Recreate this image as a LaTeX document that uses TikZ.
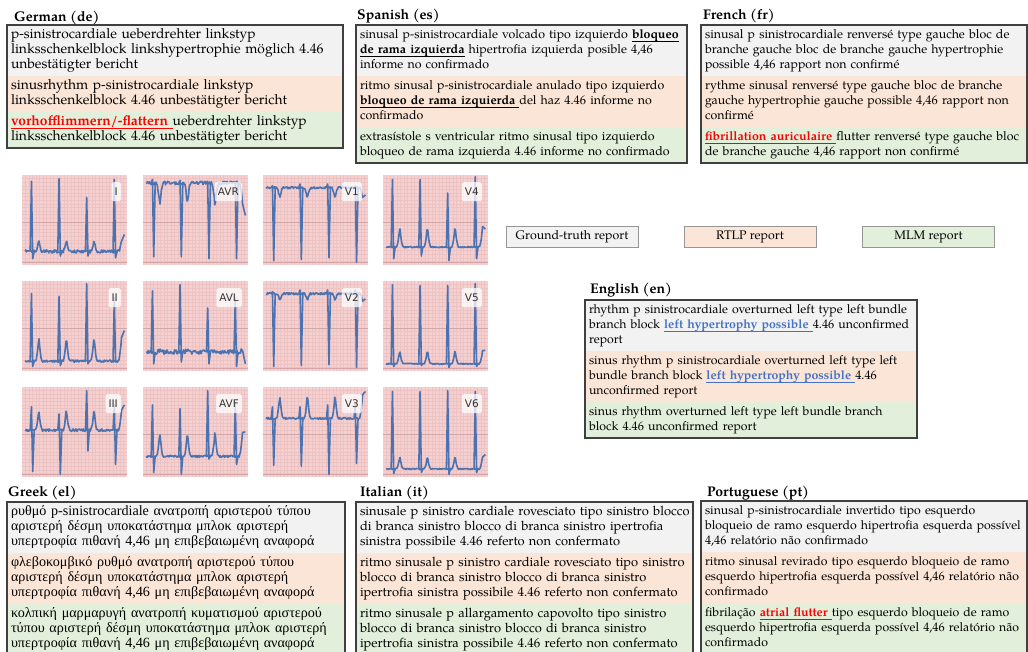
\documentclass[tikz,border=0pt]{standalone}
\usepackage{fontspec}
\setmainfont{TeX Gyre Pagella}
\newfontfamily\greekfont{Liberation Serif}
\newfontfamily\leadfont{DejaVu Sans}
\usetikzlibrary{positioning}

\definecolor{gtgray}{RGB}{242,242,242}
\definecolor{rtlporange}{RGB}{251,229,214}
\definecolor{mlmgreen}{RGB}{226,239,218}
\definecolor{boxborder}{RGB}{64,64,64}
\definecolor{legborder}{RGB}{150,150,150}
\definecolor{errred}{RGB}{255,0,0}
\definecolor{hitblue}{RGB}{68,114,196}
\definecolor{ecgpink}{RGB}{244,208,208}
\definecolor{ecgblue}{RGB}{76,114,176}
\definecolor{ecgminorc}{RGB}{236,194,194}
\definecolor{ecgmajorc}{RGB}{210,166,166}

\newcommand{\ulbox}[1]{\underline{\smash{#1}\rule[-1.4pt]{0pt}{1pt}}}
\newcommand{\wrong}[1]{\textcolor{errred}{\ulbox{\textbf{#1}}}}
\newcommand{\hit}[1]{\textcolor{hitblue}{\ulbox{\textbf{#1}}}}
\newcommand{\keyterm}[1]{\ulbox{\textbf{#1}}}

\tikzset{
  declare function={ph(\q)=mod(\q+0.173,0.263); tw(\p)=max(0,1-abs(\p-0.07)/0.035);},
  band/.style={rectangle, anchor=north west, inner xsep=4pt, inner ysep=3pt, outer sep=0pt,
    align=left, execute at begin node={\rightskip=0pt plus 1fil minus 200pt\relax\strut},
    execute at end node=\strut},
  fs/.style={font=\fontsize{#1}{15}\selectfont},
  gt/.style={band, fill=gtgray, text width=#1},
  rtlp/.style={band, fill=rtlporange, text width=#1},
  mlm/.style={band, fill=mlmgreen, text width=#1},
  greek/.style={font=\greekfont\fontsize{#1}{15}\selectfont},
  frame/.style={draw=boxborder, line width=1.2pt},
  title/.style={anchor=base west, inner sep=0pt, font=\bfseries\fontsize{14}{15}\selectfont},
  legend/.style={draw=legborder, line width=0.8pt, minimum width=132pt, minimum height=21pt,
    inner sep=0pt, font=\fontsize{12.4}{14}\selectfont},
  ecggrid/.style={draw=ecgminorc, line width=0.35pt},
  ecgmajor/.style={draw=ecgmajorc, line width=0.5pt},
  trace/.style={draw=ecgblue, line width=1.6pt, line join=round},
  leadlbl/.style={anchor=north east, xshift=-6pt, yshift=-7pt, fill=white, fill opacity=0.75,
    text opacity=1, rounded corners=2pt, text=black!80, inner xsep=3pt, inner ysep=0pt,
    minimum height=19pt, font=\leadfont\fontsize{10.5}{12}\selectfont}
}

% one ECG lead: x, y, name, base, T level, noise, beats (R/S), end level
\newcommand{\ecglead}[8]{%
  \begin{scope}[shift={(#1,#2)}, x=105pt, y=-90pt]
    \fill[ecgpink] (0,0) rectangle (1,1);
    \foreach \i in {1,...,29} \draw[ecggrid] (\i/30,0) -- (\i/30,1);
    \foreach \j in {1,...,24} \draw[ecggrid] (0,\j/25) -- (1,\j/25);
    \draw[ecgmajor] (0,0.52) -- (1,0.52) (0,0.965) -- (1,0.965);
    \begin{scope}
      \clip (0,0) rectangle (1,1);
      \draw[trace] plot[domain=0.03:0.95, samples=140]
        (\x,{#4+(#5-#4)*tw(ph(\x))*tw(ph(\x))+#6*rand}) -- (0.975,#8);
      \foreach \r/\s [count=\k from 0] in {#7} {
        \pgfmathsetmacro{\bx}{0.09+0.263*\k}
        \draw[trace] (\bx-0.012,#4) -- (\bx,\r) -- (\bx+0.012,\s) -- (\bx+0.026,#4);
      }
    \end{scope}
    \node[leadlbl] (lead-#3) at (1,0) {#3};
  \end{scope}}

\begin{document}
\begin{tikzpicture}[x=1pt, y=-1pt]
\useasboundingbox (0,0) rectangle (1028,652);
\clip (0,0) rectangle (1028,652);
\fill[white] (0,0) rectangle (1028,652);

% German
\node[title] (de-title) at (14,22) {German (de)};
\node[gt=328pt, fs=13.8] (de-gt) at (7,25) {p-sinistrocardiale ueberdrehter linkstyp\\ linksschenkelblock linkshypertrophie möglich 4.46\\ unbestätigter bericht};
\node[rtlp=328pt, fs=13.8] (de-rtlp) [below=0pt of de-gt] {sinusrhythm p-sinistrocardiale linkstyp\\ linksschenkelblock 4.46 unbestätigter bericht};
\node[mlm=328pt, fs=13.8] (de-mlm) [below=0pt of de-rtlp] {\wrong{vorhofflimmern/-flattern }ueberdrehter linkstyp\\ linksschenkelblock 4.46 unbestätigter bericht};
\draw[frame] (de-gt.north west) rectangle (de-mlm.south east);

% Spanish
\node[title] (es-title) at (357,20) {Spanish (es)};
\node[gt=323pt, fs=12.4] (es-gt) at (356,25) {sinusal p-sinistrocardiale volcado tipo izquierdo \keyterm{bloqueo}\\ \keyterm{de rama izquierda} hipertrofia izquierda posible 4,46\\ informe no confirmado};
\node[rtlp=323pt, fs=12.4] (es-rtlp) [below=0pt of es-gt] {ritmo sinusal p-sinistrocardiale anulado tipo izquierdo\\ \keyterm{bloqueo de rama izquierda }del haz 4.46 informe no\\ confirmado};
\node[mlm=323pt, fs=12.4] (es-mlm) [below=0pt of es-rtlp] {extrasístole s ventricular ritmo sinusal tipo izquierdo\\ bloqueo de rama izquierda 4.46 informe no confirmado};
\draw[frame] (es-gt.north west) rectangle (es-mlm.south east);

% French
\node[title] (fr-title) at (703,20) {French (fr)};
\node[gt=318pt, fs=12.4] (fr-gt) at (701,25) {sinusal p sinistrocardiale renversé type gauche bloc de\\ branche gauche bloc de branche gauche hypertrophie\\ possible 4,46 rapport non confirmé};
\node[rtlp=318pt, fs=12.4] (fr-rtlp) [below=0pt of fr-gt] {rythme sinusal renversé type gauche bloc de branche\\ gauche hypertrophie gauche possible 4,46 rapport non\\ confirmé};
\node[mlm=318pt, fs=12.4] (fr-mlm) [below=0pt of fr-rtlp] {\wrong{fibrillation auriculaire }flutter renversé type gauche bloc\\ de branche gauche 4,46 rapport non confirmé};
\draw[frame] (fr-gt.north west) rectangle (fr-mlm.south east);

% ECG leads
\ecglead{22}{175}{I}{0.85}{0.72}{0.018}{0.07/0.93, 0.04/0.9, 0.25/0.9, 0.05/0.92}{0.66}
\ecglead{143}{175}{AVR}{0.09}{0.34}{0.02}{0.05/0.91, 0.06/0.91, 0.07/0.93, 0.08/0.93}{0.45}
\ecglead{263}{175}{V1}{0.14}{0.26}{0.012}{0.12/0.95, 0.1/0.94, 0.1/0.92, 0.12/0.97}{0.22}
\ecglead{383}{175}{V4}{0.8}{0.57}{0.008}{0.05/0.93, 0.05/0.9, 0.2/0.95, 0.02/0.93}{0.6}
\ecglead{22}{281}{II}{0.89}{0.62}{0.012}{0.14/0.95, 0.17/0.94, 0.03/0.92, 0.19/0.9}{0.55}
\ecglead{143}{281}{AVL}{0.79}{0.76}{0.025}{0.11/0.92, 0.04/0.9, 0.3/0.92, 0.19/0.95}{0.92}
\ecglead{263}{281}{V2}{0.14}{0.22}{0.012}{0.12/0.95, 0.1/0.94, 0.1/0.93, 0.1/0.96}{0.2}
\ecglead{383}{281}{V5}{0.92}{0.77}{0.006}{0.04/0.95, 0.05/0.94, 0.05/0.96, 0.03/0.95}{0.77}
\ecglead{22}{387}{III}{0.48}{0.24}{0.015}{0.22/0.94, 0.3/0.97, 0.04/0.71, 0.2/0.86}{0.2}
\ecglead{143}{387}{AVF}{0.77}{0.49}{0.012}{0.2/0.95, 0.24/0.97, 0.04/0.8, 0.17/0.86}{0.5}
\ecglead{263}{387}{V3}{0.35}{0.08}{0.01}{0.22/0.87, 0.22/0.88, 0.2/0.97, 0.2/0.85}{0.05}
\ecglead{383}{387}{V6}{0.91}{0.77}{0.006}{0.05/0.96, 0.05/0.95, 0.04/0.97, 0.05/0.95}{0.75}

% legend
\node[legend, fill=gtgray] (leg-gt) at (572,236.5) {Ground-truth report};
\node[legend, fill=rtlporange] (leg-rtlp) at (750,236.5) {RTLP report};
\node[legend, fill=mlmgreen] (leg-mlm) at (928.5,236.5) {MLM report};

% English
\node[title] (en-title) at (590,294) {English (en)};
\node[gt=324pt, fs=12.3] (en-gt) at (585,300) {rhythm p sinistrocardiale overturned left type left bundle\\ branch block \hit{left hypertrophy possible }4.46 unconfirmed\\ report};
\node[rtlp=324pt, fs=12.3] (en-rtlp) [below=0pt of en-gt] {sinus rhythm p sinistrocardiale overturned left type left\\ bundle branch block \hit{left hypertrophy possible }4.46\\ unconfirmed report};
\node[mlm=324pt, fs=12.3] (en-mlm) [below=0pt of en-rtlp] {sinus rhythm overturned left type left bundle branch\\ block 4.46 unconfirmed report};
\draw[frame] (en-gt.north west) rectangle (en-mlm.south east);

% Greek
\node[title] (el-title) at (8,496) {Greek (el)};
\node[gt=330pt, greek=14.1] (el-gt) at (7,502) {ρυθμό p-sinistrocardiale ανατροπή αριστερού τύπου\\ αριστερή δέσμη υποκατάστημα μπλοκ αριστερή\\ υπερτροφία πιθανή 4,46 μη επιβεβαιωμένη αναφορά};
\node[rtlp=330pt, greek=14.1] (el-rtlp) [below=0pt of el-gt] {φλεβοκομβικό ρυθμό ανατροπή αριστερού τύπου\\ αριστερή δέσμη υποκατάστημα μπλοκ αριστερή\\ υπερτροφία πιθανή 4,46 μη επιβεβαιωμένη αναφορά};
\node[mlm=330pt, greek=14.1] (el-mlm) [below=0pt of el-rtlp] {κολπική μαρμαρυγή ανατροπή κυματισμού αριστερού\\ τύπου αριστερή δέσμη υποκατάστημα μπλοκ αριστερή\\ υπερτροφία πιθανή 4,46 μη επιβεβαιωμένη αναφορά};
\draw[frame] (el-gt.north west) rectangle (el-mlm.south east);

% Italian
\node[title] (it-title) at (360,496) {Italian (it)};
\node[gt=329pt, fs=12.9] (it-gt) at (356,502) {sinusale p sinistro cardiale rovesciato tipo sinistro blocco\\ di branca sinistro blocco di branca sinistro ipertrofia\\ sinistra possibile 4.46 referto non confermato};
\node[rtlp=329pt, fs=12.9] (it-rtlp) [below=0pt of it-gt] {ritmo sinusale p sinistro cardiale rovesciato tipo sinistro\\ blocco di branca sinistro blocco di branca sinistro\\ ipertrofia sinistra possibile 4.46 referto non confermato};
\node[mlm=329pt, fs=12.9] (it-mlm) [below=0pt of it-rtlp] {ritmo sinusale p allargamento capovolto tipo sinistro\\ blocco di branca sinistro blocco di branca sinistro\\ ipertrofia sinistra possibile 4.46 referto non confermato};
\draw[frame] (it-gt.north west) rectangle (it-mlm.south east);

% Portuguese
\node[title] (pt-title) at (707,496) {Portuguese (pt)};
\node[gt=318pt, fs=12.3] (pt-gt) at (701,501) {sinusal p-sinistrocardiale invertido tipo esquerdo\\ bloqueio de ramo esquerdo hipertrofia esquerda possível\\ 4,46 relatório não confirmado};
\node[rtlp=318pt, fs=12.3] (pt-rtlp) [below=0pt of pt-gt] {ritmo sinusal revirado tipo esquerdo bloqueio de ramo\\ esquerdo hipertrofia esquerda possível 4,46 relatório não\\ confirmado};
\node[mlm=318pt, fs=12.3] (pt-mlm) [below=0pt of pt-rtlp] {fibrilação \wrong{atrial flutter }tipo esquerdo bloqueio de ramo\\ esquerdo hipertrofia esquerda possível 4,46 relatório não\\ confirmado};
\draw[frame] (pt-gt.north west) rectangle (pt-mlm.south east);
\end{tikzpicture}
\end{document}
